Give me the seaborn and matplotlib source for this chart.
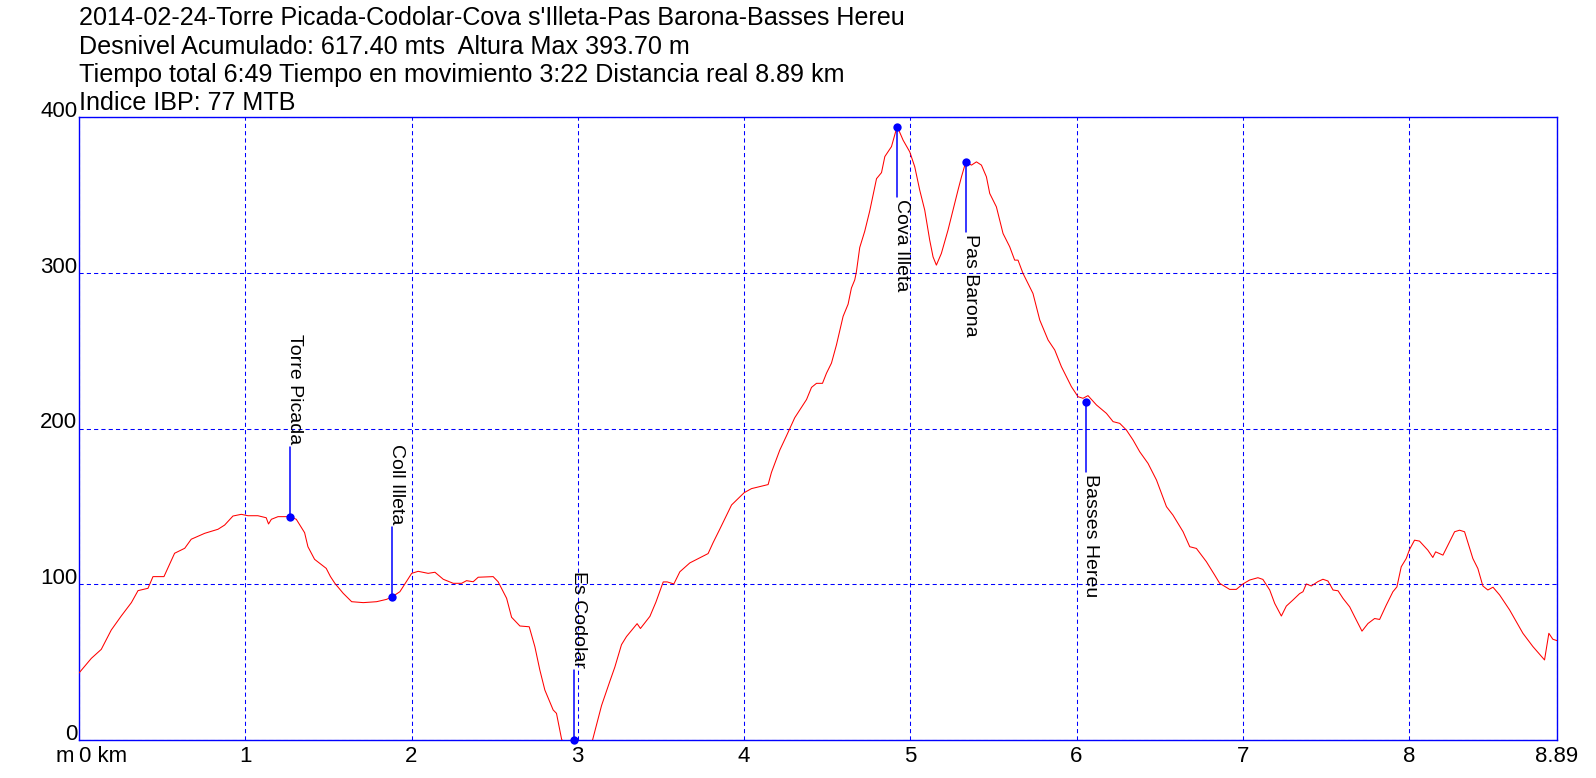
import numpy as np
import pandas as pd
import matplotlib
matplotlib.use("Agg")
import matplotlib.pyplot as plt
import seaborn as sns

# ---------------- data ----------------
title_lines = [
    "2014-02-24-Torre Picada-Codolar-Cova s'Illeta-Pas Barona-Basses Hereu",
    "Desnivel Acumulado: 617.40 mts  Altura Max 393.70 m",
    "Tiempo total 6:49 Tiempo en movimiento 3:22 Distancia real 8.89 km",
    "Indice IBP: 77 MTB",
]

distance_km = [
    0.0, 0.074, 0.134, 0.194, 0.254, 0.315, 0.355, 0.415, 0.445, 0.511,
    0.575, 0.636, 0.675, 0.756, 0.836, 0.876, 0.926, 0.976, 1.016, 1.076,
    1.126, 1.14, 1.157, 1.197, 1.271, 1.307, 1.357, 1.377, 1.417, 1.487,
    1.512, 1.539, 1.589, 1.640, 1.710, 1.790, 1.850, 1.884, 1.930, 2.001,
    2.040, 2.100, 2.141, 2.191, 2.251, 2.301, 2.331, 2.371, 2.401, 2.491,
    2.521, 2.572, 2.602, 2.652, 2.708, 2.742, 2.772, 2.802, 2.852, 2.872,
    2.903, 2.95, 3.03, 3.089, 3.143, 3.193, 3.223, 3.263, 3.293, 3.333,
    3.357, 3.377, 3.434, 3.470, 3.514, 3.538, 3.578, 3.614, 3.674, 3.784,
    3.814, 3.854, 3.925, 4.001, 4.045, 4.145, 4.165, 4.215, 4.255, 4.305,
    4.376, 4.406, 4.436, 4.472, 4.496, 4.526, 4.556, 4.596, 4.626, 4.646,
    4.666, 4.676, 4.696, 4.726, 4.756, 4.797, 4.827, 4.847, 4.887, 4.921,
    4.957, 4.997, 5.027, 5.057, 5.087, 5.117, 5.137, 5.157, 5.187, 5.227,
    5.257, 5.287, 5.308, 5.334, 5.368, 5.398, 5.428, 5.458, 5.478, 5.518,
    5.558, 5.598, 5.628, 5.648, 5.678, 5.738, 5.779, 5.829, 5.869, 5.909,
    5.969, 6.009, 6.039, 6.069, 6.120, 6.180, 6.220, 6.260, 6.300, 6.340,
    6.380, 6.430, 6.481, 6.541, 6.580, 6.641, 6.681, 6.721, 6.781, 6.831,
    6.861, 6.921, 6.961, 7.001, 7.041, 7.091, 7.121, 7.162, 7.192, 7.232,
    7.262, 7.302, 7.342, 7.362, 7.382, 7.412, 7.452, 7.482, 7.512, 7.543,
    7.573, 7.603, 7.643, 7.673, 7.717, 7.753, 7.793, 7.823, 7.863, 7.903,
    7.927, 7.953, 7.983, 8.003, 8.033, 8.063, 8.113, 8.143, 8.160, 8.204,
    8.234, 8.274, 8.304, 8.334, 8.384, 8.414, 8.444, 8.474, 8.505, 8.545,
    8.605, 8.685, 8.745, 8.815, 8.841, 8.865, 8.89,
]
elevation_m = [
    43.0, 52.4, 58.2, 70.6, 79.6, 88.2, 95.9, 97.4, 104.9, 104.9,
    119.9, 123.1, 128.9, 132.7, 135.3, 138.0, 143.8, 144.9, 144.0, 144.0,
    142.7, 138.7, 141.7, 143.4, 143.4, 141.7, 133.1, 124.1, 116.0, 110.2,
    105.0, 100.6, 94.2, 88.8, 88.2, 88.8, 90.3, 92.0, 95.2, 107.0,
    108.3, 107.0, 107.7, 103.2, 100.6, 100.6, 102.3, 101.6, 104.5, 104.9,
    101.6, 91.0, 78.8, 73.2, 72.7, 59.9, 44.9, 32.1, 19.3, 17.1,
    0.4, -6.0, -8.0, 0.0, 22.1, 37.7, 46.8, 61.2, 66.4, 71.6,
    74.7, 71.6, 79.4, 88.5, 101.5, 101.5, 100.2, 108.0, 113.7, 119.7,
    126.7, 135.3, 150.9, 158.8, 161.4, 164.0, 171.8, 186.1, 195.2, 206.9,
    218.6, 226.4, 229.0, 229.0, 235.5, 242.0, 253.7, 272.0, 279.8, 290.2,
    295.4, 300.6, 316.2, 326.6, 339.6, 360.4, 364.3, 374.6, 381.0, 394.0,
    385.1, 377.6, 368.0, 353.0, 340.2, 320.9, 310.2, 304.9, 312.4, 327.4,
    340.2, 353.0, 361.6, 371.2, 369.1, 371.2, 369.1, 361.6, 350.9, 342.3,
    325.2, 316.7, 308.1, 308.1, 299.6, 286.7, 269.6, 256.8, 250.4, 239.7,
    226.9, 220.4, 219.4, 221.1, 215.1, 209.7, 204.4, 203.3, 199.0, 192.6,
    185.1, 177.6, 166.9, 149.8, 144.4, 133.7, 124.1, 123.0, 114.5, 105.9,
    100.6, 96.7, 96.7, 100.2, 102.7, 104.2, 103.1, 96.3, 87.7, 79.6,
    86.0, 89.9, 94.0, 95.2, 100.2, 98.9, 101.7, 103.2, 102.1, 96.3,
    95.8, 90.9, 85.5, 79.1, 69.9, 74.8, 78.0, 77.4, 86.6, 95.2,
    98.3, 111.2, 116.5, 122.3, 128.3, 127.7, 121.9, 117.2, 120.8, 118.7,
    125.1, 133.7, 134.7, 133.7, 116.5, 110.1, 98.9, 96.3, 98.1, 93.1,
    83.5, 68.5, 60.0, 51.4, 68.5, 64.7, 63.8,
]

waypoint_names = ["Torre Picada", "Coll Illeta", "Es Codolar",
                  "Cova Illeta", "Pas Barona", "Basses Hereu"]
waypoint_km = [1.271, 1.884, 2.98, 4.921, 5.334, 6.059]
waypoint_m = [143.4, 92.0, 0.0, 393.7, 371.2, 216.8]

x_ticks = [0, 1, 2, 3, 4, 5, 6, 7, 8, 8.89]
x_tick_labels = ["0 km", "1", "2", "3", "4", "5", "6", "7", "8", "8.89"]
y_ticks = [0, 100, 200, 300, 400]
y_tick_labels = ["0", "100", "200", "300", "400"]

# ---------------- style ----------------
sns.set_style("white")
plt.rcParams["font.family"] = ["Liberation Sans", "DejaVu Sans"]

W, H, DPI = 1596, 778, 100
fig = plt.figure(figsize=(W / DPI, H / DPI), dpi=DPI)
left_px, right_px, top_px, bottom_px = 79, 1557, 117, 740
ax = fig.add_axes([left_px / W, (H - bottom_px) / H,
                   (right_px - left_px) / W, (bottom_px - top_px) / H])

BLUE = "#0000FF"
RED = "#FF0000"

df = pd.DataFrame({"km": distance_km, "m": elevation_m})
sns.lineplot(data=df, x="km", y="m", ax=ax, color=RED, linewidth=0.75,
             sort=False, estimator=None, zorder=3)

ax.set_xlim(0, 8.89)
ax.set_ylim(0, 400)
ax.set_xlabel("")
ax.set_ylabel("")

# grid
ax.set_axisbelow(True)
ax.grid(True, color=BLUE, linestyle=(0, (4, 3)), linewidth=0.75)
for s in ax.spines.values():
    s.set_color(BLUE)
    s.set_linewidth(1.0)

XPAD = 4.4
ax.set_xticks(x_ticks)
ax.set_xticklabels(x_tick_labels)
ax.set_yticks(y_ticks)
ax.set_yticklabels(y_tick_labels)
ax.tick_params(axis="both", length=0, labelsize=16, colors="black")
ax.tick_params(axis="x", pad=XPAD)
ax.tick_params(axis="y", pad=1.2)
for lbl in ax.get_yticklabels():
    lbl.set_verticalalignment("baseline")
ax.get_xticklabels()[0].set_horizontalalignment("left")

# "m" unit label
ax.annotate("m", xy=(0, 0), xycoords="axes fraction",
            xytext=(-5, -XPAD * DPI / 72), textcoords="offset pixels",
            ha="right", va="top", fontsize=16, color="black")

# waypoints
ax_h_px = bottom_px - top_px
px_to_m = 400 / ax_h_px
lead = 70 * px_to_m
gap = 2 * px_to_m
sns.scatterplot(x=waypoint_km, y=waypoint_m, ax=ax, color=BLUE, s=36,
                edgecolor=BLUE, linewidth=0, zorder=6, clip_on=False)
for name, xk, em in zip(waypoint_names, waypoint_km, waypoint_m):
    above = em < 200
    end = em + lead if above else em - lead
    ax.plot([xk, xk], [em, end], color=BLUE, linewidth=1.1, zorder=5)
    ty = end + gap if above else end - gap
    ax.text(xk, ty, name, rotation=270, rotation_mode="anchor",
            ha="right" if above else "left", va="baseline",
            fontsize=14, color="black", zorder=7)

# title lines
baselines = [25, 53.5, 82, 110]
for line, b in zip(title_lines, baselines):
    fig.text(79 / W, 1 - b / H, line, ha="left", va="baseline",
             fontsize=18.1, color="black")

fig.savefig("out.png", dpi=DPI, facecolor="white")
